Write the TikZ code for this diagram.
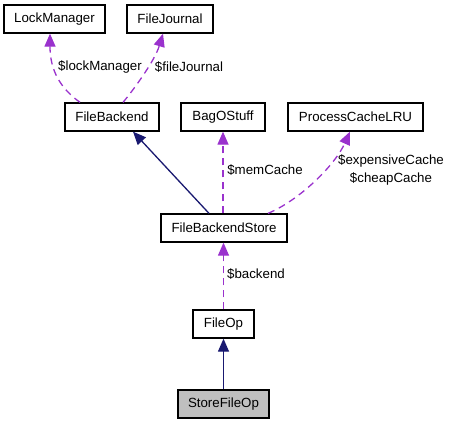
\documentclass[tikz,border=0pt]{standalone}
\usepackage{fontspec}
\setmainfont{Liberation Sans}
\usetikzlibrary{arrows.meta}
\definecolor{dep}{HTML}{9A32CD}
\definecolor{inh}{HTML}{191970}
\tikzset{
  box/.style={draw=black, line width=1.3pt, fill=white, minimum height=28pt, inner sep=0pt, font=\fontsize{13.3}{16}\selectfont},
  depedge/.style={draw=dep, line width=1.3pt, dash pattern=on 7pt off 5pt, -{Triangle[length=13pt,width=11pt,fill=dep]}},
  inhedge/.style={draw=inh, line width=1.3pt, -{Triangle[length=13pt,width=11pt,fill=inh]}},
  lbl/.style={font=\fontsize{13.3}{18}\selectfont, inner sep=0pt, align=center}
}
\begin{document}
\begin{tikzpicture}[x=1pt,y=-1pt]
\useasboundingbox (0,0) rectangle (449,424);
\node[box, minimum width=101pt] (lock) at (54.5,19) {LockManager};
\node[box, minimum width=86pt] (journal) at (170,19) {FileJournal};
\node[box, minimum width=94pt] (backend) at (112,117) {FileBackend};
\node[box, minimum width=84pt] (bag) at (223,117) {BagOStuff};
\node[box, minimum width=135pt] (lru) at (355.5,117) {ProcessCacheLRU};
\node[box, minimum width=126pt] (store) at (224,228) {FileBackendStore};
\node[box, minimum width=61pt] (fileop) at (223.5,324) {FileOp};
\node[box, minimum width=91pt, fill=black!25] (storeop) at (223.5,404) {StoreFileOp};

\draw[depedge] ([xshift=-32pt]backend.north) .. controls (60,88) and (50,70) .. ([xshift=-4.5pt]lock.south);
\draw[depedge] ([xshift=11pt]backend.north) .. controls (135,88) and (155,60) .. ([xshift=-7pt]journal.south);
\draw[inhedge] ([xshift=-15pt]store.north) -- ([xshift=21pt]backend.south);
\draw[depedge] ([xshift=-1pt]store.north) -- (bag.south);
\draw[depedge] ([xshift=44pt]store.north) .. controls (300,200) and (335,165) .. ([xshift=-5.5pt]lru.south);
\draw[depedge] (fileop.north) -- ([xshift=-0.5pt]store.south);
\draw[inhedge] (storeop.north) -- (fileop.south);

\node[lbl] (l1) at (100,67) {\$lockManager};
\node[lbl] (l2) at (189,67) {\$fileJournal};
\node[lbl] (l3) at (265,170) {\$memCache};
\node[lbl] (l4) at (391,170) {\$expensiveCache\\\$cheapCache};
\node[lbl] (l5) at (256,274) {\$backend};
\end{tikzpicture}
\end{document}
